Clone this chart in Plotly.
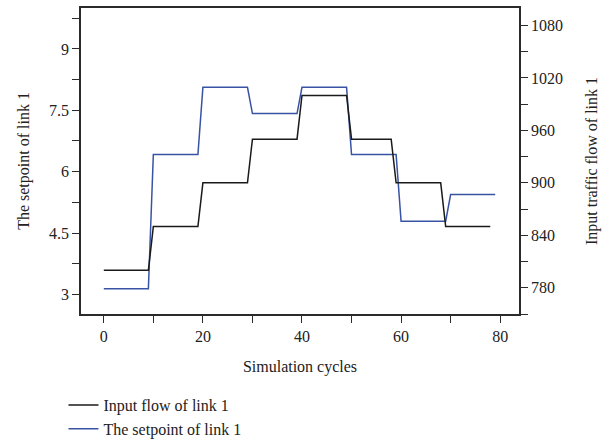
import plotly.graph_objects as go

# Data
cycles_flow = [0, 9, 10, 19, 20, 29, 30, 39, 40, 49, 50, 58, 59, 68, 69, 78]
input_flow = [800, 800, 850, 850, 900, 900, 950, 950, 1000, 1000, 950, 950, 900, 900, 850, 850]
cycles_setpoint = [0, 9, 10, 19, 20, 29, 30, 39, 40, 49, 50, 59, 60, 69, 70, 79]
setpoint = [3.14, 3.14, 6.42, 6.42, 8.06, 8.06, 7.42, 7.42, 8.06, 8.06, 6.42, 6.42, 4.79, 4.79, 5.44, 5.44]

x_ticks = [0, 20, 40, 60, 80]
left_ticks = [3, 4.5, 6, 7.5, 9]
right_ticks = [780, 840, 900, 960, 1020, 1080]

FONT = "Liberation Serif"
AX = "#2b2b2b"

fig = go.Figure()
fig.add_trace(go.Scatter(x=cycles_flow, y=input_flow, mode="lines", name="Input flow of link 1",
                         line=dict(color="#1a1a1a", width=1.5), yaxis="y2"))
fig.add_trace(go.Scatter(x=cycles_setpoint, y=setpoint, mode="lines", name="The setpoint of link 1",
                         line=dict(color="#3953a4", width=1.5), yaxis="y"))

axis_common = dict(showgrid=False, zeroline=False, showline=True, linecolor=AX, linewidth=1.5,
                   ticks="outside", ticklen=7, tickwidth=1.2, tickcolor=AX,
                   tickfont=dict(family=FONT, size=16, color="#222"))

fig.update_layout(
    width=611, height=443,
    margin=dict(l=81, r=92, t=8, b=129, autoexpand=False),
    paper_bgcolor="white", plot_bgcolor="white",
    font=dict(family=FONT, size=16, color="#222"),
    xaxis=dict(range=[-4.6, 83.8], tickvals=x_ticks, mirror=True,
               title=dict(text="Simulation cycles", font=dict(family=FONT, size=16), standoff=17),
               minor=dict(dtick=10, tick0=0, ticks="outside", ticklen=7, tickwidth=1.2, tickcolor=AX),
               **axis_common),
    yaxis=dict(range=[2.52, 10.0], tickvals=left_ticks, ticktext=["3", "4.5", "6", "7.5", "9"],
               title=dict(text="The setpoint of link 1", font=dict(family=FONT, size=16), standoff=15),
               minor=dict(dtick=0.75, tick0=3, ticks="outside", ticklen=7, tickwidth=1.2, tickcolor=AX),
               **axis_common),
    yaxis2=dict(range=[750, 1100], tickvals=right_ticks, overlaying="y", side="right",
                title=dict(text="Input traffic flow of link 1", font=dict(family=FONT, size=16), standoff=24),
                minor=dict(dtick=30, tick0=780, ticks="outside", ticklen=7, tickwidth=1.2, tickcolor=AX),
                **axis_common),
    legend=dict(x=-0.04, y=-0.242, xanchor="left", yanchor="top", orientation="v",
                font=dict(family=FONT, size=16), itemwidth=30, bgcolor="rgba(0,0,0,0)",
                tracegroupgap=0),
    showlegend=True,
)

fig.write_html("out.html")
